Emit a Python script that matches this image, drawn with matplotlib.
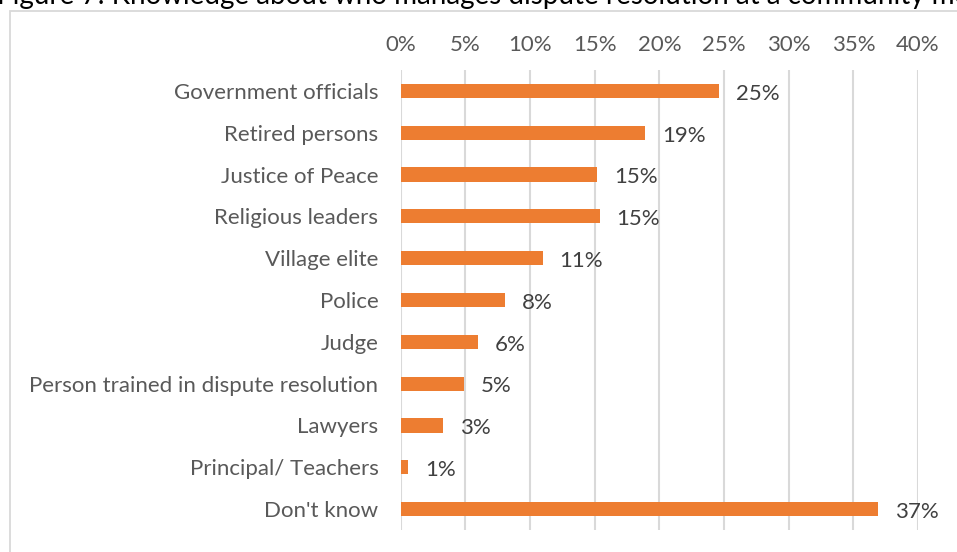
import matplotlib
matplotlib.use("Agg")
import matplotlib.pyplot as plt
from matplotlib.patches import Rectangle

# Share of respondents naming each actor (fraction of 1)
categories = [
    "Government officials",
    "Retired persons",
    "Justice of Peace",
    "Religious leaders",
    "Village elite",
    "Police",
    "Judge",
    "Person trained in dispute resolution",
    "Lawyers",
    "Principal/ Teachers",
    "Don't know",
]
shares = [0.246, 0.189, 0.152, 0.154, 0.110, 0.081, 0.060, 0.049, 0.033, 0.006, 0.369]
x_ticks = [0.0, 0.05, 0.10, 0.15, 0.20, 0.25, 0.30, 0.35, 0.40]
title = "Figure 7: Knowledge about who manages dispute resolution at a community meeting"

BAR = "#ED7D31"
GRID = "#D9D9D9"
TXT = "#595959"
LBL = "#404040"

plt.rcParams["font.family"] = ["Lato", "DejaVu Sans"]

W, H = 957, 552
fig = plt.figure(figsize=(W / 100, H / 100), dpi=100)
fig.patch.set_facecolor("white")

# chart frame (runs off the right and bottom edges)
fig.patches.append(Rectangle((10 / W, -0.1), 1.2, 1.1 - 11 / H,
                             transform=fig.transFigure, fill=False,
                             edgecolor=GRID, linewidth=1.3))

# caption partly cut off at the top edge
fig.text(-3 / W, 1 - 4 / H, title, fontsize=20, color="#000000",
         ha="left", va="baseline")

left, right = 400.7 / W, 918 / W
bottom, top = (H - 530) / H, (H - 70) / H
ax = fig.add_axes([left, bottom, right - left, top - bottom])

ypos = list(range(len(categories)))
ax.barh(ypos, shares, height=0.34, color=BAR, zorder=3)
ax.set_ylim(len(categories) - 0.5, -0.5)
ax.set_xlim(0, 0.40)

ax.set_yticks(ypos)
ax.set_yticklabels(categories)
ax.set_xticks(x_ticks)
ax.set_xticklabels([f"{t:.0%}" for t in x_ticks])
ax.xaxis.tick_top()
ax.tick_params(axis="x", length=0, pad=11, labelsize=16, colors=TXT)
ax.tick_params(axis="y", length=0, pad=16, labelsize=16, colors=TXT)

ax.grid(axis="x", color=GRID, linewidth=1.5, zorder=0)
for s in ax.spines.values():
    s.set_visible(False)

for y, v in zip(ypos, shares):
    ax.annotate(f"{v:.0%}", xy=(v, y), xytext=(12, -2),
                textcoords="offset points", va="center", ha="left",
                fontsize=16, color=LBL)

fig.savefig("out.png", dpi=100, facecolor="white")
